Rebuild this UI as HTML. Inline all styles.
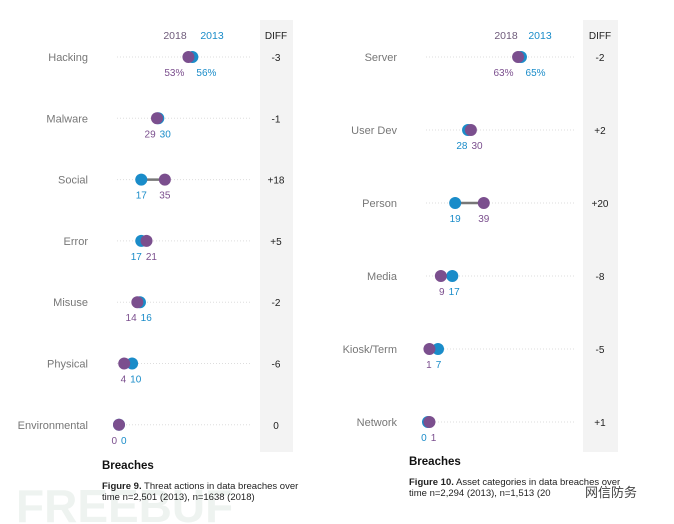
<!DOCTYPE html>
<html><head><meta charset="utf-8"><style>
html,body{margin:0;padding:0;background:#fff;}
svg{display:block;font-family:"Liberation Sans",sans-serif;}
</style></head><body>
<svg id="c" width="674" height="524" viewBox="0 0 674 524">
<text x="16" y="522" font-size="46" font-weight="bold" fill="#eef3f0">FREEBUF</text>
<rect x="260" y="20" width="33" height="432" fill="#f3f3f3"/>
<rect x="583" y="20" width="35" height="432" fill="#f3f3f3"/>
<text x="276" y="39" font-size="10" text-anchor="middle" fill="#222">DIFF</text>
<text x="600" y="39" font-size="10" text-anchor="middle" fill="#222">DIFF</text>
<text x="175" y="39" font-size="10.5" text-anchor="middle" fill="#6e5a7a">2018</text>
<text x="212" y="39" font-size="10.5" text-anchor="middle" fill="#1a8cc9">2013</text>
<text x="506" y="39" font-size="10.5" text-anchor="middle" fill="#6e5a7a">2018</text>
<text x="540" y="39" font-size="10.5" text-anchor="middle" fill="#1a8cc9">2013</text>
<text x="102" y="469" font-size="11.5" font-weight="bold" fill="#111">Breaches</text>
<text x="102" y="489" font-size="9.5" fill="#222"><tspan font-weight="bold">Figure 9.</tspan> Threat actions in data breaches over</text>
<text x="102" y="500" font-size="9.5" fill="#222">time n=2,501 (2013), n=1638 (2018)</text>
<text x="409" y="465" font-size="11.5" font-weight="bold" fill="#111">Breaches</text>
<text x="409" y="485" font-size="9.5" fill="#222"><tspan font-weight="bold">Figure 10.</tspan> Asset categories in data breaches over</text>
<text x="409" y="496" font-size="9.5" fill="#222">time n=2,294 (2013), n=1,513 (20</text>
<text x="585" y="497" font-size="13" fill="#444" font-family="Noto Sans CJK SC, sans-serif">网信防务</text>
</svg>
<script>
const catsA = ["Hacking","Malware","Social","Error","Misuse","Physical","Environmental"];
const v2018A = [53,29,35,21,14,4,0];
const v2013A = [56,30,17,17,16,10,0];
const diffA = ["-3","-1","+18","+5","-2","-6","0"];
const pctA = [true,false,false,false,false,false,false];
const catsB = ["Server","User Dev","Person","Media","Kiosk/Term","Network"];
const v2018B = [63,30,39,9,1,1];
const v2013B = [65,28,19,17,7,0];
const diffB = ["-2","+2","+20","-8","-5","+1"];
const pctB = [true,false,false,false,false,false];

const svg = document.getElementById('c');
const NS = 'http://www.w3.org/2000/svg';
function mk(tag, attrs, txt){const e=document.createElementNS(NS,tag);for(const k in attrs)e.setAttribute(k,attrs[k]);if(txt!==undefined)e.textContent=txt;svg.appendChild(e);return e;}
const P='#7b4f8e', B='#1a8cc9';

function panel(cats,a18,a13,diffs,pcts,cfg,prefix){
  const xs = v => cfg.x0 + v*cfg.k;
  const ys = i => cfg.y0 + i*cfg.dy;
  cats.forEach((c,i)=>{
    const y=ys(i);
    let e=mk('text',{x:cfg.lx,y:y+4,'font-size':11,'text-anchor':'end',fill:'#777'},c);
    
    
    e=mk('line',{x1:cfg.x0-2,x2:cfg.xe,y1:y,y2:y,stroke:'#ddd','stroke-width':1,'stroke-dasharray':'1 2'});
    
    
    const x18=xs(a18[i]), x13=xs(a13[i]);
    e=mk('line',{x1:x18,x2:x13,y1:y,y2:y,stroke:'#777','stroke-width':2.5});
    
    
    e=mk('circle',{cx:x13,cy:y,r:6,fill:B});
    
    
    e=mk('circle',{cx:x18,cy:y,r:6,fill:P});
    
    
    const s=pcts[i]?'%':'';
    const lowIs18 = a18[i]<=a13[i];
    const lo = lowIs18?{v:a18[i],x:x18,c:P}:{v:a13[i],x:x13,c:B};
    const hi = lowIs18?{v:a13[i],x:x13,c:B}:{v:a18[i],x:x18,c:P};
    const close = (hi.x-lo.x) < 22;
    const mid=(lo.x+hi.x)/2;
    const gap = pcts[i]?6:2;
    e=mk('text',{x:close?mid-gap:lo.x,y:y+19,'font-size':10,'text-anchor':close?'end':'middle',fill:lo.c},lo.v+s);
    
    
    e=mk('text',{x:close?mid+gap:hi.x,y:y+19,'font-size':10,'text-anchor':close?'start':'middle',fill:hi.c},hi.v+s);
    
    
    e=mk('text',{x:cfg.dx,y:y+4,'font-size':10,'text-anchor':'middle',fill:'#222'},diffs[i]);
    
    
  });
}
panel(catsA,v2018A,v2013A,diffA,pctA,{x0:119,k:1.31,xe:252,y0:57,dy:61.3,lx:88,dx:276},'threat');
panel(catsB,v2018B,v2013B,diffB,pctB,{x0:428,k:1.43,xe:575,y0:57,dy:73,lx:397,dx:600},'asset');
</script>
</body></html>
